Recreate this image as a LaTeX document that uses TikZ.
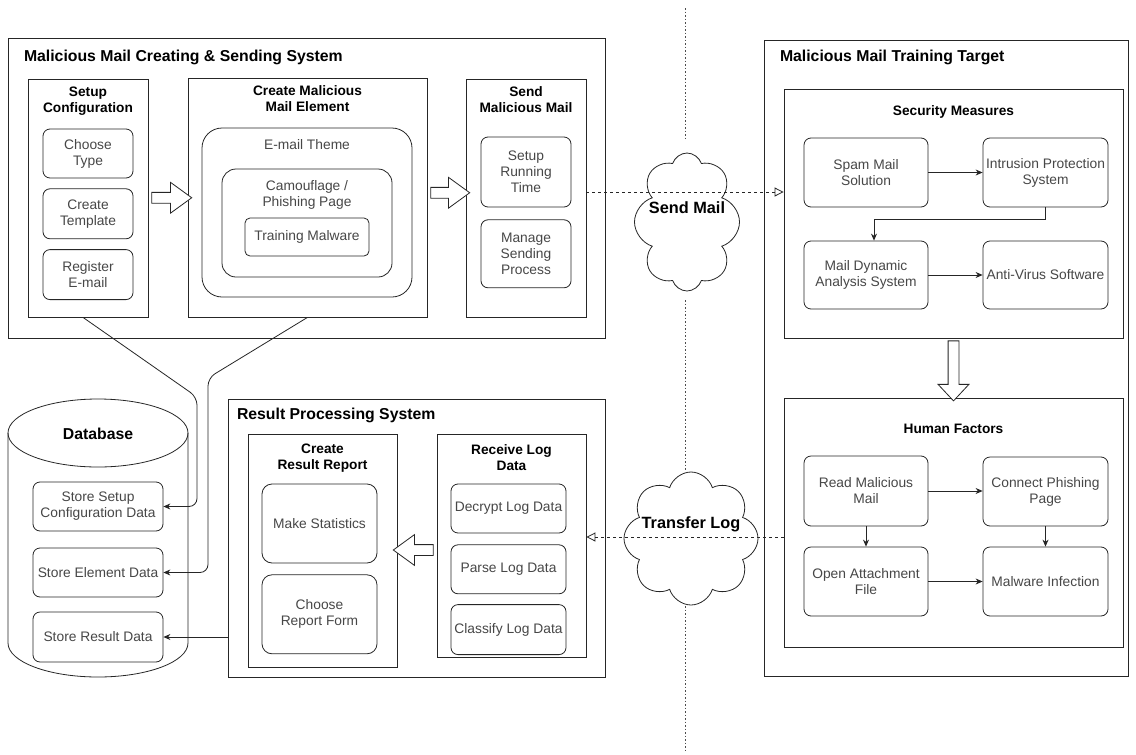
\documentclass[tikz,border=0pt]{standalone}
\usepackage{fontspec}
\setmainfont{Liberation Sans}
\usetikzlibrary{shapes.symbols, shapes.arrows}
\usetikzlibrary{arrows.meta, calc, positioning}

\begin{document}
\begin{tikzpicture}[x=1pt, y=-1pt, line width=0.8pt,
  system/.style={draw=black!85, rectangle, inner sep=0},
  group/.style={draw=black!85, rectangle, inner sep=0},
  task/.style={draw=black!85, rounded corners=7pt, align=center, text=black!72, font=\fontsize{13.8}{16}\selectfont, inner sep=0},
  tasktitle/.style={align=center, text=black!72, font=\fontsize{13.8}{16}\selectfont, inner sep=0},
  systitle/.style={font=\fontsize{15.8}{18}\selectfont\bfseries, inner sep=0},
  grptitle/.style={font=\fontsize{13.7}{16}\selectfont\bfseries, align=center, inner sep=0},
  cloudtext/.style={font=\fontsize{16.3}{19}\selectfont\bfseries, inner sep=0},
  mailcloud/.style={cloud, draw=black!85, cloud puffs=8, cloud puff arc=145, cloud ignores aspect, inner sep=0},
  hollow/.style={single arrow, draw=black!85, fill=white, inner xsep=0, inner ysep=5pt, minimum width=30pt, single arrow head extend=10pt, single arrow tip angle=72},
  flow/.style={draw=black!85, -{Stealth[length=7pt, width=6pt]}},
  transfer/.style={draw=black!85, dash pattern=on 3pt off 3pt, -{Triangle[open, length=9pt, width=9pt]}},
  border/.style={draw=black!70, dash pattern=on 1.5pt off 2pt}]
\useasboundingbox (0,0) rectangle (1136,755);
\fill[white] (0,0) rectangle (1136,755);

% sending system
\node[system, minimum width=597pt, minimum height=300pt] (mailsys) at (306.5,188) {};
\node[systitle, anchor=base west] at ([shift={(16pt,-23.6pt)}]mailsys.north west) {Malicious Mail Creating \& Sending System};

\node[group, minimum width=120pt, minimum height=238pt] (setup) at (88,198) {};
\node[grptitle, below=8pt of setup.north] {Setup\\Configuration};
\node[task, minimum width=90pt, minimum height=49pt] (choose) at (88,153.5) {Choose\\Type};
\node[task, minimum width=90pt, minimum height=50pt, below=10pt of choose] (template) {Create\\Template};
\node[task, minimum width=90pt, minimum height=50pt, below=10pt of template] (register) {Register\\E-mail};

\node[group, minimum width=239pt, minimum height=239pt] (element) at (307.5,197.5) {};
\node[grptitle, below=8pt of element.north] {Create Malicious\\Mail Element};
\node[task, rounded corners=20pt, minimum width=210pt, minimum height=169pt] (theme) at (307,212.5) {};
\node[tasktitle, below=11pt of theme.north] {E-mail Theme};
\node[task, rounded corners=14pt, minimum width=170pt, minimum height=108pt] (camo) at (307,223) {};
\node[tasktitle, below=11pt of camo.north] {Camouflage /\\Phishing Page};
\node[task, rounded corners=5pt, minimum width=124pt, minimum height=38pt] (malware) at (307,237) {Training Malware};

\node[group, minimum width=120pt, minimum height=238pt] (send) at (526,198) {};
\node[grptitle, below=8pt of send.north] {Send\\Malicious Mail};
\node[task, minimum width=90pt, minimum height=70pt] (runtime) at (526,172) {Setup\\Running\\Time};
\node[task, minimum width=90pt, minimum height=68pt, below=12pt of runtime] (manage) {Manage\\Sending\\Process};

\node[hollow, minimum height=40pt] at ($(setup.east)!0.5!(element.west)$) {};
\node[hollow, minimum height=39pt, yshift=5pt] at ($(element.east)!0.5!(send.west)$) {};

% training target
\node[system, minimum width=364pt, minimum height=636pt] (target) at (946,358) {};
\node[systitle, anchor=base west] at ([shift={(16pt,-21.6pt)}]target.north west) {Malicious Mail Training Target};

\node[group, minimum width=339pt, minimum height=249pt] (secm) at (953.5,213.5) {};
\node[grptitle, below=17pt of secm.north] {Security Measures};
\node[task, minimum width=124pt, minimum height=69pt] (spam) at (866,172.5) {Spam Mail\\Solution};
\node[task, minimum width=125pt, minimum height=69pt] (ips) at (1045.5,172.5) {Intrusion Protection\\System};
\node[task, minimum width=124pt, minimum height=68pt] (mdas) at (866,275) {Mail Dynamic\\Analysis System};
\node[task, minimum width=125pt, minimum height=68pt] (av) at (1045.5,275) {Anti-Virus Software};
\draw[flow] (spam.east) -- (spam.east -| ips.west);
\draw[flow] (ips.south) -- ++(0,12) -| ([xshift=8pt]mdas.north);
\draw[flow] (mdas.east) -- (mdas.east -| av.west);

\node[group, minimum width=339pt, minimum height=249pt] (human) at (953.5,522.5) {};
\node[grptitle, below=26pt of human.north] {Human Factors};
\node[task, minimum width=124pt, minimum height=70pt] (readm) at (866,491) {Read Malicious\\Mail};
\node[task, minimum width=125pt, minimum height=69pt] (connect) at (1045.5,491.5) {Connect Phishing\\Page};
\node[task, minimum width=124pt, minimum height=69pt] (openatt) at (866,581.5) {Open Attachment\\File};
\node[task, minimum width=125pt, minimum height=69pt] (infect) at (1045.5,581.5) {Malware Infection};
\draw[flow] (readm.east) -- (readm.east -| connect.west);
\draw[flow] (readm) -- (openatt);
\draw[flow] (connect) -- (infect);
\draw[flow] (openatt.east) -- (openatt.east -| infect.west);

\node[hollow, inner sep=5pt, minimum height=60pt, single arrow tip angle=86, shape border rotate=270] at ($(secm.south)!0.5!(human.north)$) {};

% result processing
\node[system, minimum width=377pt, minimum height=278pt] (result) at (416.5,538) {};
\node[systitle, anchor=base west] at ([shift={(9pt,-20.6pt)}]result.north west) {Result Processing System};

\node[group, minimum width=149pt, minimum height=233pt] (report) at (322.5,550.5) {};
\node[grptitle, below=10pt of report.north] {Create\\Result Report};
\node[task, rounded corners=10pt, minimum width=115pt, minimum height=79pt] (stats) at (319.5,523.5) {Make Statistics};
\node[task, rounded corners=10pt, minimum width=115pt, minimum height=79pt, below=11pt of stats] (form) {Choose\\Report Form};

\node[group, minimum width=149pt, minimum height=223pt] (recv) at (511.5,545.5) {};
\node[grptitle, below=11pt of recv.north] {Receive Log\\Data};
\node[task, minimum width=115pt, minimum height=49pt] (decrypt) at (508.5,508.5) {Decrypt Log Data};
\node[task, minimum width=115pt, minimum height=49pt, below=11pt of decrypt] (parse) {Parse Log Data};
\node[task, minimum width=115pt, minimum height=50pt, below=10pt of parse] (classify) {Classify Log Data};

\node[hollow, minimum height=40pt, shape border rotate=180, yshift=-2pt] at ($(recv.west)!0.5!(report.east)$) {};

% database
\draw[draw=black!85] (8,433) -- (8,643) arc[start angle=180, end angle=360, x radius=90pt, y radius=34pt] -- (188,433);
\draw[draw=black!85] (98,433) ellipse [x radius=90pt, y radius=34pt];
\node[systitle] (dbtitle) at (98,434) {Database};
\node[task, minimum width=130pt, minimum height=49pt] (storecfg) at (98,506.5) {Store Setup\\Configuration Data};
\node[task, minimum width=130pt, minimum height=49pt] (storeel) at (98,572.5) {Store Element Data};
\node[task, minimum width=130pt, minimum height=50pt] (storeres) at (98,637) {Store Result Data};

\draw[flow, rounded corners=8pt] ([xshift=-5pt]setup.south) -- (197,397) -- (storecfg.east -| 197,0) -- (storecfg.east);
\draw[flow, rounded corners=8pt] (element.south) -- (208,378) -- (storeel.east -| 208,0) -- (storeel.east);
\draw[flow] (result.west |- storeres.east) -- (storeres.east);

% network boundary
\draw[border] (685,8) -- (685,140);
\draw[border] (685,300) -- (685,470);
\draw[border] (685,606) -- (685,750);

\draw[transfer] ([yshift=6pt]send.east) -- ([yshift=6pt]send.east -| secm.west);
\draw[transfer] ([yshift=-14.5pt]human.west) -- ([yshift=-14.5pt]human.west -| recv.east);

\node[mailcloud, minimum width=105pt, minimum height=138pt, label={[cloudtext, yshift=14pt]center:Send Mail}] (sendcloud) at (687,222) {};
\node[mailcloud, minimum width=134pt, minimum height=133pt, label={[cloudtext, yshift=14.5pt]center:Transfer Log}] (logcloud) at (691,538.5) {};
\end{tikzpicture}
\end{document}
